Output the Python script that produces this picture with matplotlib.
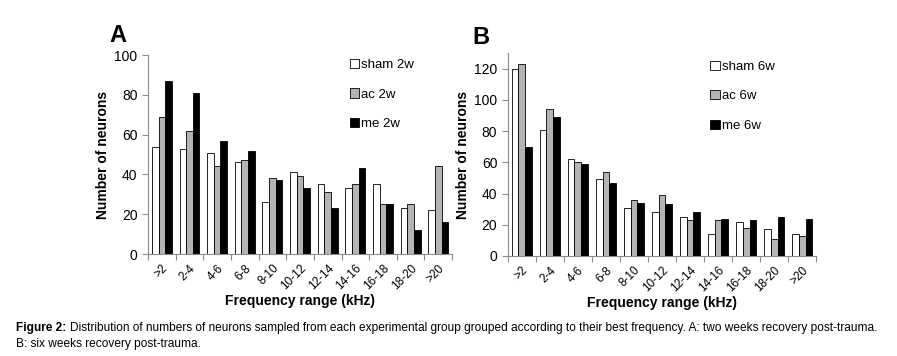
import numpy as np
import matplotlib
matplotlib.use("Agg")
from matplotlib import pyplot as plt

plt.rcParams['font.family'] = ['Liberation Sans', 'DejaVu Sans']

# frequency bins shared by both panels
categories = ['>2', '2-4', '4-6', '6-8', '8-10', '10-12', '12-14',
              '14-16', '16-18', '18-20', '>20']

# panel A: two weeks
sham_2w = [54, 53, 51, 46, 26, 41, 35, 33, 35, 23, 22]
ac_2w = [69, 62, 44, 47, 38, 39, 31, 35, 25, 25, 44]
me_2w = [87, 81, 57, 52, 37, 33, 23, 43, 25, 12, 16]

# panel B: six weeks
sham_6w = [120, 81, 62, 49, 31, 28, 25, 14, 22, 17, 14]
ac_6w = [123, 94, 60, 54, 36, 39, 23, 23, 18, 11, 13]
me_6w = [70, 89, 59, 47, 34, 33, 28, 24, 23, 25, 24]

colors = ['white', '#b4b4b4', 'black']
axis_grey = '#8c8c8c'


def draw_panel(ax, series, names, ymax, yticks, letter, letter_xy, leg_xy):
    x = np.arange(len(categories))
    w = 0.24
    for i, (vals, name) in enumerate(zip(series, names)):
        ax.bar(x + (i - 1) * w, vals, w, color=colors[i], edgecolor='black',
               linewidth=0.6, label=name)
    ax.set_xlim(-0.5, len(categories) - 0.5)
    ax.set_ylim(0, ymax)
    ax.set_yticks(yticks)
    # group boundaries get the tick marks, names sit in the middle
    ax.set_xticks(np.arange(len(categories) + 1) - 0.5)
    ax.set_xticklabels([])
    ax.set_xticks(x, minor=True)
    ax.set_xticklabels(categories, minor=True, rotation=45, ha='right',
                       rotation_mode='anchor', fontsize=8.5)
    ax.tick_params(axis='x', which='minor', length=0, pad=6)
    ax.tick_params(axis='x', which='major', length=4, color=axis_grey)
    ax.tick_params(axis='y', length=4, color=axis_grey, labelsize=10)
    for s in ['top', 'right']:
        ax.spines[s].set_visible(False)
    for s in ['left', 'bottom']:
        ax.spines[s].set_color(axis_grey)
        ax.spines[s].set_linewidth(0.8)
    ax.set_ylabel('Number of neurons', fontsize=10, fontweight='bold',
                  labelpad=3)
    ax.set_xlabel('Frequency range (kHz)', fontsize=10, fontweight='bold',
                  labelpad=1)
    ax.legend(loc='upper right', frameon=False, fontsize=9.5,
              handlelength=0.7, handleheight=0.7, handletextpad=0.2,
              labelspacing=1.3, bbox_to_anchor=leg_xy)
    ax.text(letter_xy[0], letter_xy[1], letter, transform=ax.transAxes,
            fontsize=17, fontweight='bold', ha='center', va='bottom')


fig = plt.figure(figsize=(8.97, 3.56), dpi=100)
ax_a = fig.add_axes([0.165, 0.2865, 0.339, 0.559])
ax_b = fig.add_axes([0.566, 0.281, 0.344, 0.57])

draw_panel(ax_a, [sham_2w, ac_2w, me_2w], ['sham 2w', 'ac 2w', 'me 2w'],
           100, range(0, 101, 20), 'A', (-0.1, 1.04), (0.915, 1.04))
draw_panel(ax_b, [sham_6w, ac_6w, me_6w], ['sham 6w', 'ac 6w', 'me 6w'],
           130, range(0, 121, 20), 'B', (-0.087, 1.02), (0.905, 1.02))

cap_size = 8.6
fig.text(0.018, 0.079, 'Figure 2:', fontsize=cap_size, fontweight='bold',
         va='center')
fig.text(0.078, 0.079, 'Distribution of numbers of neurons sampled from each '
         'experimental group grouped according to their best frequency. '
         'A: two weeks recovery post-trauma.', fontsize=cap_size, va='center')
fig.text(0.018, 0.035, 'B: six weeks recovery post-trauma.', fontsize=cap_size,
         va='center')

fig.savefig('out.png', dpi=100)
